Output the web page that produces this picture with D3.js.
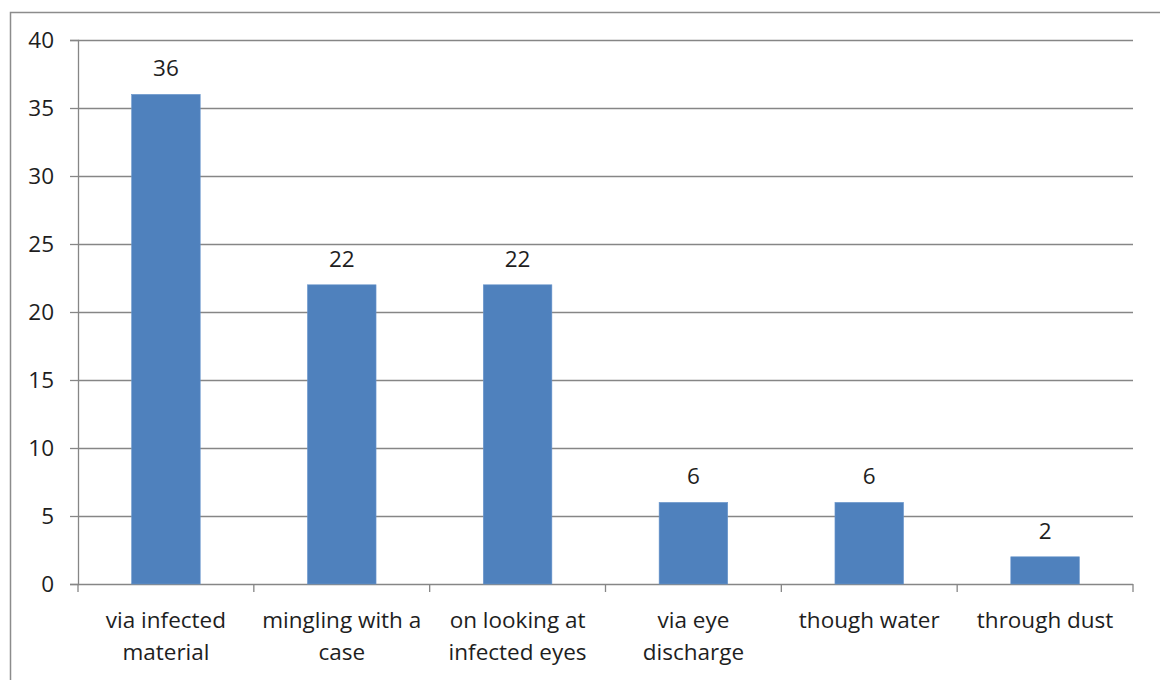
<!DOCTYPE html>
<html>
<head>
<meta charset="utf-8">
<script src="https://cdn.jsdelivr.net/npm/d3@7"></script>
<style>
  body { margin: 0; background: #fff; }
  svg { display: block; font-family: "Open Sans", sans-serif; }
</style>
</head>
<body>
<svg id="chart" width="1160" height="680"></svg>
<script>
const categories = [
    ["via infected", "material"],
    ["mingling with a", "case"],
    ["on looking at", "infected eyes"],
    ["via eye", "discharge"],
    ["though water"],
    ["through dust"]
]
const values = [36, 22, 22, 6, 6, 2]
const yTicks = [0, 5, 10, 15, 20, 25, 30, 35, 40]

const FONT_SIZE = "22.5px"
const margins = { top: 40, left: 78, right: 27, bottom: 96 }
const svg = d3.select("#chart")
const width = 1160 - margins.left - margins.right
const height = 680 - margins.top - margins.bottom

// outer frame
svg.append("rect")
    .attr("x", 10.5).attr("y", 12.5)
    .attr("width", 1160).attr("height", 680)
    .attr("fill", "none").attr("stroke", "#8c8c8c").attr("stroke-width", 1.5)

const g = svg.append("g")
    .attr("transform", "translate(" + margins.left + "," + margins.top + ")")

const x = d3.scaleBand()
    .domain(d3.range(categories.length))
    .range([0, width])
    .paddingInner(0.61).paddingOuter(0.305)
const xTicks = d3.scaleBand().domain(d3.range(categories.length)).range([0, width])
const y = d3.scaleLinear().domain([0, 40]).range([height, 0])

// gridlines
g.append("g")
    .selectAll("line")
    .data(yTicks.filter(d => d > 0))
    .join("line")
    .attr("x1", 0).attr("x2", width)
    .attr("y1", d => Math.round(y(d)) + 0.5).attr("y2", d => Math.round(y(d)) + 0.5)
    .attr("stroke", "#868686").attr("stroke-width", 1.3)

// y axis
const yAxis = g.append("g")
    .call(d3.axisLeft(y).tickValues(yTicks).tickSize(8).tickPadding(16))
yAxis.select(".domain").attr("stroke", "#868686").attr("stroke-width", 1.3)
yAxis.selectAll(".tick line").attr("stroke", "#868686").attr("stroke-width", 1.3)
yAxis.selectAll(".tick text")
    .attr("font-size", FONT_SIZE).attr("fill", "#1e1e1e")
    .attr("font-family", "Open Sans, sans-serif")

// x axis baseline and ticks
const xBase = g.append("g").attr("transform", "translate(0," + height + ")")
xBase.append("line")
    .attr("x1", 0).attr("x2", width).attr("y1", 0.5).attr("y2", 0.5)
    .attr("stroke", "#868686").attr("stroke-width", 1.3)
xBase.selectAll("line.tk")
    .data(d3.range(categories.length + 1))
    .join("line").attr("class", "tk")
    .attr("x1", i => i * xTicks.step()).attr("x2", i => i * xTicks.step())
    .attr("y1", 0).attr("y2", 8)
    .attr("stroke", "#868686").attr("stroke-width", 1.3)

// category labels
xBase.selectAll("text.cat")
    .data(categories)
    .join("text").attr("class", "cat")
    .attr("text-anchor", "middle")
    .attr("font-size", FONT_SIZE).attr("fill", "#1e1e1e")
    .attr("transform", (d, i) => "translate(" + (xTicks(i) + xTicks.bandwidth() / 2) + ",44)")
    .selectAll("tspan")
    .data(d => d)
    .join("tspan")
    .attr("x", 0).attr("dy", (d, i) => i === 0 ? 0 : 32)
    .text(d => d)

// bars
g.selectAll("rect.bar")
    .data(values)
    .join("rect").attr("class", "bar")
    .attr("x", (d, i) => x(i))
    .attr("y", d => y(d))
    .attr("width", x.bandwidth())
    .attr("height", d => height - y(d))
    .attr("fill", "#4f81bd")
    .attr("stroke", "#6a96cc").attr("stroke-width", 0.6)

// value labels
g.selectAll("text.val")
    .data(values)
    .join("text").attr("class", "val")
    .attr("x", (d, i) => x(i) + x.bandwidth() / 2)
    .attr("y", d => y(d) - 18)
    .attr("text-anchor", "middle")
    .attr("font-size", FONT_SIZE).attr("fill", "#1e1e1e")
    .text(d => d)
</script>
</body>
</html>
